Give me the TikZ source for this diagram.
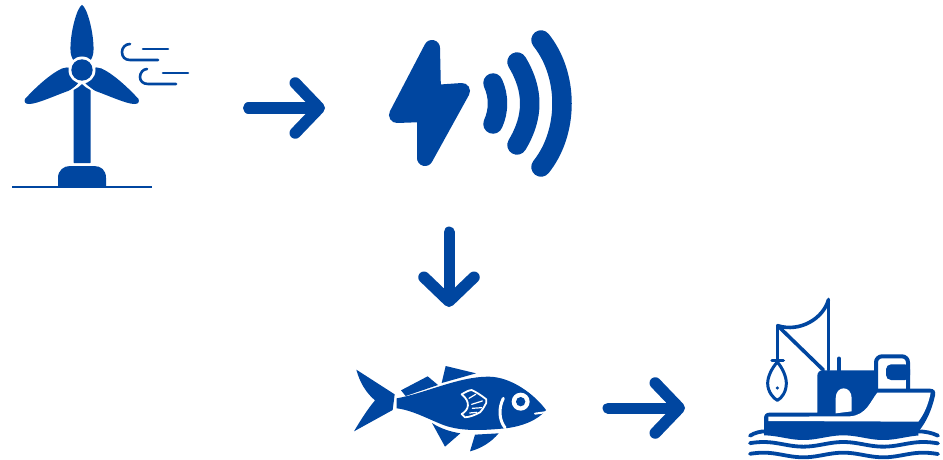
\documentclass[tikz,border=0pt]{standalone}
\usetikzlibrary{arrows.meta}
\definecolor{seablue}{RGB}{0,70,160}
\tikzset{
  x=1pt,y=-1pt,
  solidpart/.style={fill=seablue,draw=none},
  iconline/.style={draw=seablue,line width=#1,line cap=round,line join=round,fill=none},
  cutline/.style={draw=white,line width=#1,line cap=round,line join=round,fill=none},
  cutfill/.style={fill=white,draw=none},
  flow/.style={draw=seablue,line width=11pt,line cap=round,-{Straight Barb[round,length=24pt,width=50pt,line width=11.5pt]}},
  wave/.style={draw=seablue,line width=3.8pt,line cap=round,fill=none},
}
\begin{document}
\begin{tikzpicture}
\useasboundingbox (0,0) rectangle (943,460);
\fill[white] (0,0) rectangle (943,460);
% ---- wind turbine
\fill[solidpart] (82,5) .. controls (77,7) and (70,33) .. (70.5,50) .. controls (70.5,58) and (75,65) .. (82,65) .. controls (89,65) and (93.5,58) .. (93.5,50) .. controls (94,33) and (87,7) .. (82,5) -- cycle;
\fill[solidpart] (25,99) .. controls (35,88) and (50,74) .. (62,68.5) .. controls (68,66) and (76,68) .. (80,74) .. controls (82,80) and (76,88) .. (68,91) .. controls (54,96) and (37,104) .. (29,104) .. controls (25,104) and (24,102) .. (25,99) -- cycle;
\fill[solidpart] (138.5,99) .. controls (128.5,88) and (113.5,74) .. (101.5,68.5) .. controls (95.5,66) and (87.5,68) .. (83.5,74) .. controls (81.5,80) and (87.5,88) .. (95.5,91) .. controls (109.5,96) and (126.5,104) .. (134.5,104) .. controls (138.5,104) and (139.5,102) .. (138.5,99) -- cycle;
\fill[white] (82,70) circle (13.5);
\draw[cutline=2.5pt] (82,83) -- (70,92) (82,83) -- (94,92);
\fill[solidpart] (82,70) circle (10.7);
\fill[solidpart,rounded corners=0.5pt] (73.5,163) -- (73.5,90) .. controls (76,89) and (79,87) .. (82,84) .. controls (85,87) and (88,89) .. (90.5,90) -- (90.5,163) -- cycle;
\fill[solidpart] (58,186) -- (58,178) .. controls (58,170) and (64,166) .. (70,166) -- (94,166) .. controls (101,166) and (106,170) .. (106,178) -- (106,186) -- cycle;
\draw[iconline=2.6pt,line cap=butt] (12,187) -- (152,187);
\draw[iconline=2.6pt] (130,44) .. controls (125,44) and (122,48) .. (122,52) .. controls (122,57) and (125,60) .. (130,60) -- (158,60);
\draw[iconline=2.6pt] (143,49) -- (168,49);
\draw[iconline=2.6pt] (147,69) .. controls (143,69) and (140,73) .. (140,77) .. controls (140,81) and (143,84) .. (148,84) -- (176,84);
\draw[iconline=2.6pt] (163,73) -- (188,73);
% ---- lightning and signal
\filldraw[iconline=16pt,fill=seablue] (432,48) -- (433,93) -- (462,91) -- (425,158) -- (425,114) -- (397,115) -- cycle;
\draw[iconline=19.5pt] (493,83) .. controls (499,96) and (499,111) .. (493,124);
\draw[iconline=19.5pt] (517,62) .. controls (534,90) and (534,117) .. (517,145);
\draw[iconline=19.5pt] (541,40) .. controls (569,75) and (569,132) .. (541,167);
% ---- fish
\begin{scope}[shift={(345,355)},scale=1/3]
\fill[solidpart] (34,44) -- (149,118) -- (143,165) -- (27,229) .. controls (50,190) and (70,160) .. (90,136) .. controls (65,115) and (45,85) .. (34,44) -- cycle;
\fill[solidpart] (155,130) .. controls (240,115) and (340,65) .. (430,65) .. controls (500,65) and (570,120) .. (603,165) .. controls (580,195) and (530,215) .. (480,220) .. controls (400,228) and (340,228) .. (290,208) .. controls (250,192) and (200,165) .. (155,160) -- cycle;
\fill[solidpart] (168,106) -- (248,64) -- (279,90) -- (182,123) -- cycle;
\fill[solidpart] (302,33) -- (393,55) -- (290,84) -- cycle;
\fill[solidpart] (261,204) .. controls (285,220) and (315,230) .. (346,235) -- (300,275) -- cycle;
\fill[solidpart] (390,239) -- (461,235) .. controls (440,260) and (410,280) .. (375,289) -- cycle;
\draw[cutline=3pt] (475,130) .. controls (460,160) and (462,195) .. (480,218);
\fill[white] (527,140) circle (27);
\fill[solidpart] (527,140) circle (14);
\draw[cutline=2pt] (570,176) -- (600,172);
\draw[cutline=1.8pt] (350,118) .. controls (360,112) and (370,106) .. (380,105) .. controls (395,112) and (410,122) .. (424,133) -- (424,143) .. controls (418,155) and (412,165) .. (405,172) .. controls (390,180) and (375,186) .. (360,187) -- (350,177) .. controls (372,165) and (378,140) .. (350,118) -- cycle;
\draw[cutline=1.2pt] (372,130) -- (392,118) (380,148) -- (412,138) (382,160) -- (410,158) (374,174) -- (395,172);
\end{scope}
% ---- boat
\begin{scope}[shift={(740,290)},scale=1/3]
\draw[iconline=3.6pt] (265,28) -- (265,240);
\draw[iconline=3.6pt] (265,30) .. controls (250,85) and (180,128) .. (113,107) -- (250,240);
\draw[iconline=3.6pt] (113,107) -- (113,212);
\draw[iconline=3.4pt] (96,211) -- (130,211);
\draw[iconline=3pt] (112,216) .. controls (95,235) and (83,260) .. (83,280) .. controls (83,305) and (100,325) .. (112,331) .. controls (125,325) and (139,305) .. (139,280) .. controls (139,260) and (128,235) .. (112,216) -- cycle;
\fill[solidpart] (112,294) circle (5);
\draw[iconline=3.6pt] (297,205) -- (297,245);
\fill[solidpart] (72,425) -- (72,385) .. controls (72,374) and (78,368) .. (88,368) -- (232,368) -- (232,258) .. controls (232,248) and (238,241) .. (248,241) -- (408,241) -- (408,296) -- (570,296) .. controls (583,296) and (588,305) .. (585,317) .. controls (575,360) and (560,395) .. (535,425) -- cycle;
\fill[cutfill] (287,370) -- (287,325) .. controls (287,285) and (335,285) .. (335,325) -- (335,364) -- cycle;
\fill[cutfill] (85,380) -- (330,379) .. controls (380,375) and (390,335) .. (412,308) -- (572,308) .. controls (565,345) and (552,372) .. (535,395) -- (85,393) -- cycle;
\draw[iconline=4pt,rounded corners=6pt] (408,300) -- (408,199) -- (504,199) -- (504,300);
\fill[solidpart,rounded corners=5pt] (510,223) -- (438,223) -- (438,270) -- (510,270) -- cycle;
\fill[solidpart] (72,420) -- plot[domain=72:535,samples=50] (\x,{443-7*cos(1.5*(\x-70))}) -- (535,420) -- cycle;
\draw[wave] (30,437) .. controls (45,428) and (60,424) .. (78,424) -- (530,424) .. controls (555,424) and (575,428) .. (594,437);
\foreach \wy in {463,495}{
  \draw[wave] plot[smooth,domain=30:594,samples=50] (\x,{\wy-7*cos(1.5*(\x-70))});
}
\end{scope}
% ---- connectors
\coordinate (flowA) at (248.5,108);
\coordinate (flowAend) at (325,108);
\coordinate (flowB) at (449,232);
\coordinate (flowBend) at (449,307);
\coordinate (flowC) at (608,408);
\coordinate (flowCend) at (685,408);
\draw[flow] (flowA) -- (flowAend);
\draw[flow] (flowB) -- (flowBend);
\draw[flow] (flowC) -- (flowCend);
\end{tikzpicture}
\end{document}
